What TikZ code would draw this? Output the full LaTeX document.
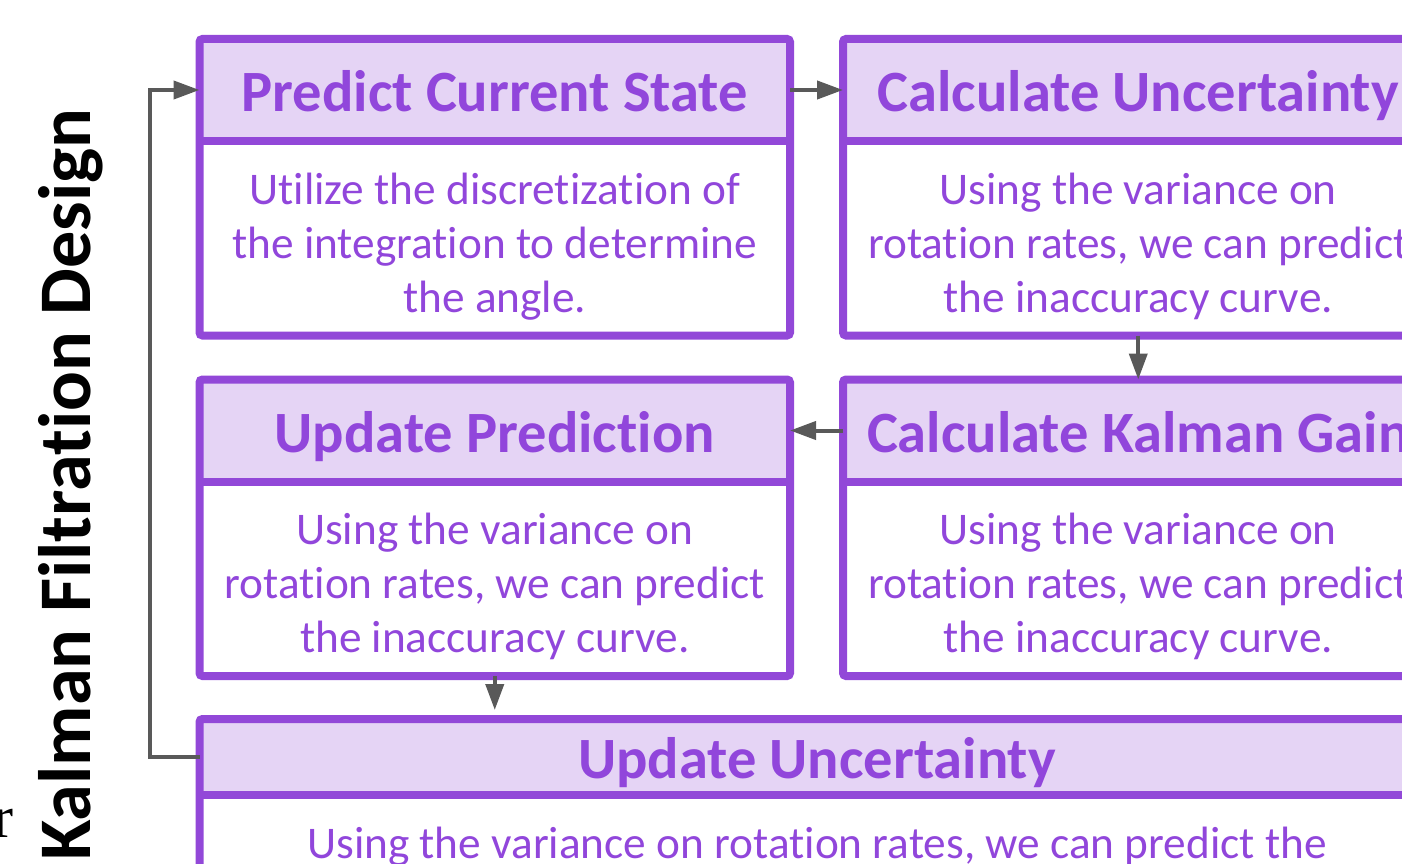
\documentclass[tikz,border=0pt]{standalone}
\usepackage{fontspec}
\setmainfont{Carlito}[Ligatures={NoCommon}]
\newfontfamily\serifr{Liberation Serif}
\usetikzlibrary{arrows.meta}
\definecolor{boxpurple}{RGB}{146,72,216}
\definecolor{hdrfill}{RGB}{229,212,245}
\definecolor{txtpurple}{RGB}{145,70,219}
\definecolor{arrowgray}{RGB}{89,89,89}
\begin{document}
\begin{tikzpicture}[x=1pt,y=-1pt,
 hdr/.style={fill=hdrfill, minimum width=590.5pt, minimum height=102pt, inner sep=0pt, outer sep=0pt, anchor=north west, text height=52pt, text depth=8pt, font=\fontsize{58.5}{70}\selectfont\bfseries, text=txtpurple},
 bdy/.style={minimum width=590.5pt, minimum height=194.5pt, inner sep=0pt, outer sep=0pt, anchor=north west},
 bodytext/.style={inner sep=0pt, font=\fontsize{45.3}{54}\selectfont, text=txtpurple, align=center},
 boxline/.style={draw=boxpurple, line width=8pt},
 flow/.style={draw=arrowgray, line width=4pt, -{Triangle[length=26pt,width=18pt]}}
]
\useasboundingbox (0,0) rectangle (1402,864);
\clip (0,0) rectangle (1402,864);
% box 1
\node[hdr] (h1) at (199.5,39) {Predict Current State};
\node[bdy] (b1) at (h1.south west) {};
\node[bodytext] (t1) at ([yshift=-8pt]b1.center) {Utilize the discretization of\\the integration to determine\\the angle.};
% box 2
\node[hdr] (h2) at (843,39) {Calculate Uncertainty};
\node[bdy] (b2) at (h2.south west) {};
\node[bodytext] (t2) at ([yshift=-8pt]b2.center) {Using the variance on\\rotation rates, we can predict\\the inaccuracy curve.};
% box 3
\node[hdr] (h3) at (199.5,379.5) {Update Prediction};
\node[bdy] (b3) at (h3.south west) {};
\node[bodytext] (t3) at ([yshift=-8pt]b3.center) {Using the variance on\\rotation rates, we can predict\\the inaccuracy curve.};
% box 4
\node[hdr] (h4) at (843,379.5) {Calculate Kalman Gain};
\node[bdy] (b4) at (h4.south west) {};
\node[bodytext] (t4) at ([yshift=-8pt]b4.center) {Using the variance on\\rotation rates, we can predict\\the inaccuracy curve.};
% box 5
\node[hdr, minimum width=1235pt, minimum height=75.5pt] (h5) at (199.5,719) {Update Uncertainty};
\node[bdy, minimum width=1235pt, minimum height=160pt, anchor=north] (b5) at (h5.south) {};
\node[bodytext, anchor=base] (t5) at ([yshift=-63.5pt]h5.south) {Using the variance on rotation rates, we can predict the};
% outlines
\foreach \h/\b in {h1/b1,h2/b2,h3/b3,h4/b4,h5/b5}{
  \draw[boxline, rounded corners=3pt] (\h.north west) rectangle (\b.south east);
  \draw[boxline] (\h.south west) -- (\h.south east);
}
% connectors
\draw[flow] (h1.east) -- (h2.west);
\draw[flow] (b2.south) -- (h4.north);
\draw[flow] (h4.west) -- (h3.east);
\draw[flow] (b3.south) -- ([yshift=-34pt]b3.south);
\draw[flow] (h5.west) -- ++(-50,0) |- (h1.west);
% title
\node[rotate=90, anchor=base west, inner sep=0pt, font=\fontsize{74.2}{80}\selectfont\bfseries] (title) at (90,861) {Kalman Filtration Design};
\node[anchor=base east, inner sep=0pt, font=\serifr\fontsize{60}{60}\selectfont] (frag) at (14,837) {r};
\end{tikzpicture}
\end{document}
